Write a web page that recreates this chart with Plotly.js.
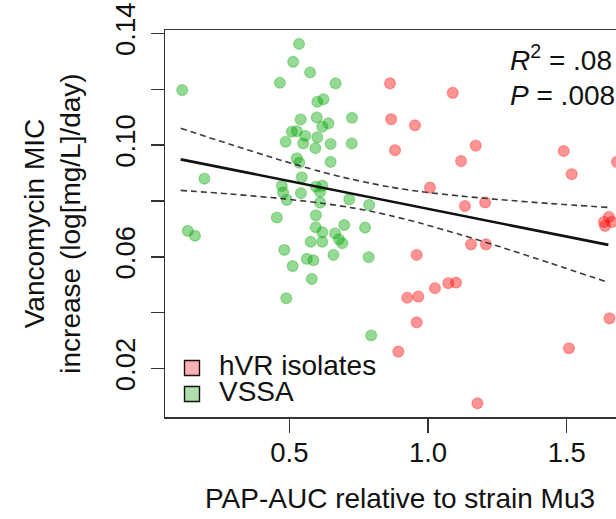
<!DOCTYPE html>
<html>
<head>
<meta charset="utf-8">
<script src="https://cdn.plot.ly/plotly-3.0.1.min.js"></script>
<style>
html,body{margin:0;padding:0;overflow:hidden;background:#fff;}
#chart{width:660px;height:519px;}
</style>
</head>
<body>
<div id="chart"></div>
<script>
// VSSA (green) points
var vssaX = [0.114,0.535,0.514,0.575,0.466,0.667,0.601,0.623,0.726,0.541,
             0.599,0.641,0.619,0.509,0.527,0.557,0.487,0.550,0.601,0.594,
             0.649,0.725,0.527,0.536,0.649,0.194,0.545,0.473,0.596,0.619,
             0.611,0.478,0.542,0.491,0.611,0.716,0.788,0.455,0.596,0.595,
             0.619,0.698,0.773,0.665,0.679,0.691,0.577,0.619,0.482,0.563,
             0.587,0.659,0.786,0.512,0.581,0.489,0.795,0.134,0.160];
var vssaY = [0.1197,0.1362,0.1298,0.1260,0.1223,0.1221,0.1155,0.1164,0.1098,0.1092,
             0.1099,0.1078,0.1066,0.1048,0.1050,0.1033,0.1012,0.1006,0.1028,0.0989,
             0.1004,0.1006,0.0953,0.0937,0.0940,0.0880,0.0885,0.0854,0.0851,0.0855,
             0.0833,0.0830,0.0828,0.0804,0.0794,0.0806,0.0786,0.0741,0.0749,0.0706,
             0.0688,0.0714,0.0705,0.0684,0.0663,0.0649,0.0654,0.0654,0.0625,0.0593,
             0.0588,0.0607,0.0599,0.0567,0.0521,0.0452,0.0319,0.0693,0.0676];
// hVR isolates (red) points
var hvrX = [0.863,1.089,0.867,0.953,0.881,1.172,1.119,1.489,1.518,1.681,
            1.007,1.133,1.206,1.652,1.634,1.663,1.638,1.155,1.209,0.959,
            1.025,1.073,1.101,0.925,0.965,0.959,1.654,0.893,1.508,1.178];
var hvrY = [0.1221,0.1187,0.1093,0.1071,0.0982,0.0998,0.0943,0.0979,0.0896,0.0940,
            0.0848,0.0782,0.0795,0.0743,0.0725,0.0725,0.0711,0.0645,0.0645,0.0607,
            0.0488,0.0506,0.0508,0.0454,0.0458,0.0366,0.0380,0.0261,0.0273,0.0076];
// regression line and confidence band
var fitX = [0.1085, 1.65];
var fitY = [0.0949, 0.0643];
var bandX  = [0.1085,0.2862,0.4665,0.6107,0.7188,0.7909,0.8630,0.9712,1.1154,1.2596,1.4398,1.6489];
var upperY = [0.1060,0.1003,0.0947,0.0906,0.0879,0.0864,0.0850,0.0834,0.0818,0.0805,0.0791,0.0777];
var lowerY = [0.0838,0.0825,0.0809,0.0793,0.0777,0.0764,0.0748,0.0721,0.0680,0.0636,0.0578,0.0509];
// axis ticks
var xTickVals = [0.5, 1.0, 1.5];
var xTickText = ['0.5', '1.0', '1.5'];
var yTickVals = [0.02, 0.04, 0.06, 0.08, 0.10, 0.12, 0.14];
var yTickText = ['0.02', '', '0.06', '', '0.10', '', '0.14'];
var legendNames = ['hVR isolates', 'VSSA'];
var legendFills = ['#ffb0b0', '#aee0ae'];
var statLines = ['<i>R</i><sup>2</sup> = .08', '<i>P</i> = .008'];

var FONT = 'Liberation Sans, Arial, Helvetica, sans-serif';
var FS = 28;
var redFill = 'rgba(255,0,0,0.42)', redEdge = 'rgba(255,0,0,0.3)';
var grnFill = 'rgba(0,165,0,0.42)', grnEdge = 'rgba(0,165,0,0.3)';

var traces = [
  {x: hvrX, y: hvrY, type: 'scatter', mode: 'markers', name: legendNames[0], showlegend: false,
   marker: {size: 11, color: redFill, line: {color: redEdge, width: 1.2}}},
  {x: vssaX, y: vssaY, type: 'scatter', mode: 'markers', name: legendNames[1], showlegend: false,
   marker: {size: 11, color: grnFill, line: {color: grnEdge, width: 1.2}}},
  {x: bandX, y: upperY, type: 'scatter', mode: 'lines', showlegend: false,
   line: {color: '#3a3a3a', width: 1.6, dash: '6px,4px', shape: 'spline', smoothing: 0.8}},
  {x: bandX, y: lowerY, type: 'scatter', mode: 'lines', showlegend: false,
   line: {color: '#3a3a3a', width: 1.6, dash: '6px,4px', shape: 'spline', smoothing: 0.8}},
  {x: fitX, y: fitY, type: 'scatter', mode: 'lines', showlegend: false,
   line: {color: '#111', width: 2.6}}
];

var axisCommon = {
  showgrid: false, zeroline: false, showline: true, mirror: true,
  linecolor: '#333', linewidth: 1.5, ticks: 'outside', tickcolor: '#333',
  tickwidth: 1.4, tickfont: {family: FONT, size: 27.5, color: '#111'}
};

// legend keys (boxes) and labels, placed inside the plot's lower-left corner
var legendShapes = legendNames.map(function (n, i) {
  return {type: 'rect', xref: 'paper', yref: 'paper',
          x0: 0.0415, x1: 0.0734, y0: [0.1072, 0.0401][i], y1: [0.146, 0.0788][i],
          fillcolor: legendFills[i], line: {color: '#111', width: 1.4}};
});
var legendLabels = legendNames.map(function (n, i) {
  return {xref: 'paper', yref: 'paper', x: 0.1117, y: [0.1331, 0.0654][i],
          xanchor: 'left', yanchor: 'middle', showarrow: false, text: n,
          height: 25, valign: 'middle',
          font: {family: FONT, size: FS, color: '#111'}};
});

var layout = {
  width: 660, height: 519,
  margin: {l: 165, r: 25, t: 30, b: 102},
  paper_bgcolor: '#fff', plot_bgcolor: '#fff',
  font: {family: FONT, size: FS, color: '#111'},
  showlegend: false,
  xaxis: Object.assign({}, axisCommon, {
    range: [0.052, 1.746], tickmode: 'array', tickvals: xTickVals, ticktext: xTickText,
    ticklen: 14, ticklabelstandoff: -4,
    title: {text: 'PAP-AUC relative to strain Mu3', font: {family: FONT, size: FS, color: '#111'}, standoff: 22}
  }),
  yaxis: Object.assign({}, axisCommon, {
    range: [0.0027, 0.1412], tickmode: 'array', tickvals: yTickVals, ticktext: yTickText,
    ticklen: 13, tickangle: -90, ticklabelstandoff: 5,
    title: {text: 'Vancomycin MIC<br>increase (log[mg/L]/day)', font: {family: FONT, size: FS, color: '#111'}, standoff: 20}
  }),
  shapes: legendShapes,
  annotations: [
    {x: 1.288, y: 0.1312, xref: 'x', yref: 'y', xanchor: 'left', yanchor: 'middle', showarrow: false,
     text: statLines[0], font: {family: FONT, size: FS, color: '#111'}},
    {x: 1.288, y: 0.1179, xref: 'x', yref: 'y', xanchor: 'left', yanchor: 'middle', showarrow: false,
     text: statLines[1], font: {family: FONT, size: FS, color: '#111'}}
  ].concat(legendLabels)
};

Plotly.newPlot('chart', traces, layout, {displayModeBar: false, staticPlot: true});
</script>
</body>
</html>
